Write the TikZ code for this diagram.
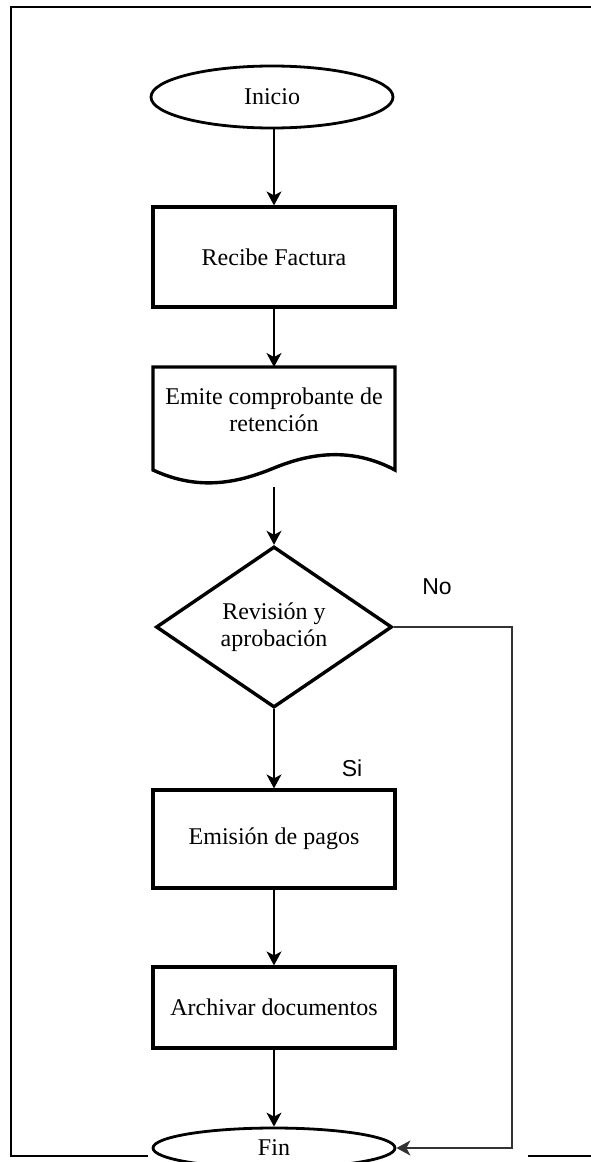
\documentclass[tikz,border=0pt]{standalone}
\usepackage{fontspec}
\setmainfont{Liberation Serif}
\newfontfamily\etiqfont{Liberation Sans}
\usetikzlibrary{shapes.geometric,arrows.meta}
\tikzset{
	caja/.style={draw,line width=3.2pt,minimum width=242pt,inner sep=0pt,align=center,font=\fontsize{24}{27}\selectfont},
	terminal/.style={caja,ellipse,line width=2.8pt},
	decision/.style={caja,diamond,minimum width=236pt,minimum height=161pt,line width=3.4pt},
	flecha/.style={line width=1.6pt,-{Stealth[length=14pt,width=15pt,inset=4pt]}},
	etiq/.style={font=\etiqfont\fontsize{23}{27}\selectfont}
}
\begin{document}
\begin{tikzpicture}[x=1pt,y=-1pt]
	\useasboundingbox (0,0) rectangle (590,1162);
	% marco
	\draw [line width=2.4pt] (148,1156) -- (11,1156) -- (11,7) -- (596,7);
	\draw [line width=2.4pt] (528,1156) -- (596,1156);

	\node [terminal,minimum height=62pt] (inicio) at (272,97) {Inicio};
	\node [caja,minimum height=100pt] (recibe) at (274,257) {Recibe Factura};
	\node [align=center,inner sep=0pt,font=\fontsize{24}{27}\selectfont] (emite) at (274,410) {Emite comprobante de\\retención};
	\draw [line width=3.4pt] (153,470) -- (153,367) -- (395,367) -- (395,470)
		.. controls (350,446) and (308,454) .. (274,468)
		.. controls (240,482) and (200,492) .. (153,470) -- cycle;
	\coordinate (emiteN) at (274,367);
	\coordinate (emiteS) at (274,487);
	\node [decision] (revision) at (274,627) {Revisión y\\aprobación};
	\node [caja,minimum height=98pt] (emision) at (274,839) {Emisión de pagos};
	\node [caja,minimum height=81pt] (archivar) at (274,1007.5) {Archivar documentos};
	\node [terminal,minimum height=40pt] (fin) at (274,1148) {Fin};

	\node [etiq] (no) at (437,587) {No};
	\node [etiq] (si) at (352,768) {Si};

	\draw [flecha] (inicio.south -| recibe.north) -- (recibe);
	\draw [flecha] (recibe) -- (emiteN);
	\draw [flecha] (emiteS) -- (revision);
	\foreach \a/\b in {revision/emision,emision/archivar,archivar/fin}
		\draw [flecha] (\a) -- (\b);
	\coordinate (vuelta) at (512,627);
	\draw [flecha,line width=1.6pt,black!80] (revision) -- (vuelta) |- (fin);
\end{tikzpicture}
\end{document}
